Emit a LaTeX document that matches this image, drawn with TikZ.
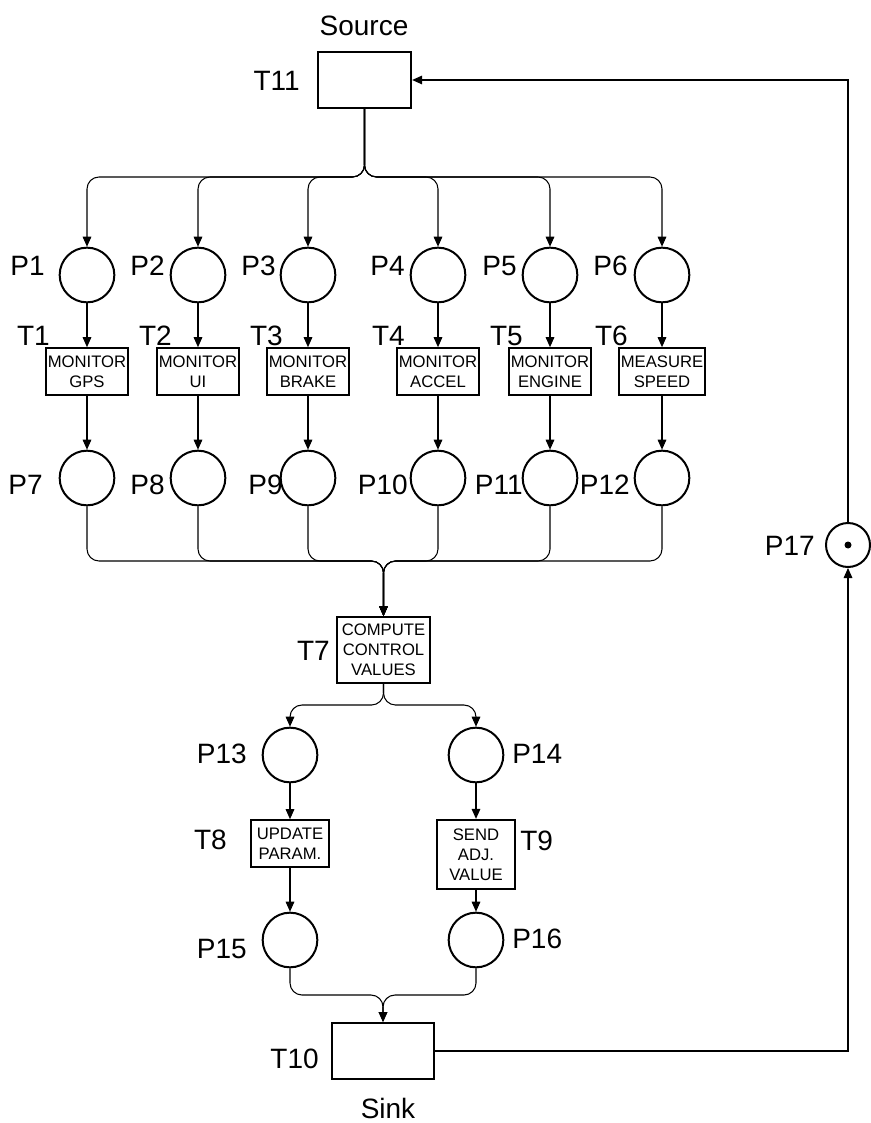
\documentclass[tikz,border=0pt]{standalone}
\usepackage{fontspec}
\setmainfont{Liberation Sans}
\usetikzlibrary{arrows.meta}

\tikzset{
  place/.style={circle,draw,line width=1.5pt,minimum size=41pt,inner sep=0pt},
  trans/.style={rectangle,draw,line width=1.5pt,align=center,inner sep=1.5pt,
    font=\fontsize{12.5}{15}\selectfont,minimum width=61pt,minimum height=35pt},
  lbl/.style={font=\fontsize{21}{24}\selectfont,inner sep=0pt,anchor=base east},
  conn/.style={line width=0.8pt,rounded corners=9pt}
}

\begin{document}
\begin{tikzpicture}[x=0.75pt,y=-0.75pt,>={Triangle[length=7.5pt,width=6.5pt]}]
  \useasboundingbox (0,0) rectangle (870,1123);

  % source and the compute step
  \node[trans,minimum width=70pt,minimum height=42pt] (t11) at (364.5,80) {};
  \node[lbl,anchor=base] (source) at (364,36) {Source};
  \node[lbl] (lt11) at (300,91) {T11};
  \node[trans,minimum width=70pt,minimum height=49.5pt] (t7) at (383.5,650)
    {COMPUTE\\CONTROL\\VALUES};
  \node[lbl] (lt7) at (330,660) {T7};
  \coordinate (split) at (t11.south |- 0,177);
  \coordinate (merge) at (t7.north |- 0,561);

  \foreach \i/\j/\x/\txt/\lp/\lt/\lq in {
    1/7/87/{MONITOR\\GPS}/45/50/43,
    2/8/198/{MONITOR\\UI}/165/172/165,
    3/9/308/{MONITOR\\BRAKE}/276/283/283,
    4/10/438/{MONITOR\\ACCEL}/405/405/408,
    5/11/550/{MONITOR\\ENGINE}/517/523/523,
    6/12/662/{MEASURE\\SPEED}/628/628/630
  } {
    \node[place] (p\i) at (\x,275) {};
    \node[trans] (t\i) at (\x,371.5) {\txt};
    \node[place] (p\j) at (\x,478) {};
    \node[lbl] (lp\i) at (\lp,275) {P\i};
    \node[lbl] (lt\i) at (\lt,345) {T\i};
    \node[lbl] (lp\j) at (\lq,494) {P\j};
    \draw[conn,->] (t11.south) -- (split) -| (p\i.north);
    \draw[conn,->] (p\i) -- (t\i);
    \draw[conn,->] (t\i) -- (p\j);
    \draw[conn,->] (p\j.south) |- (merge) -- (t7.north);
  }

  % lower half
  \node[place] (p13) at (290,755) {};
  \node[place] (p14) at (476,755) {};
  \node[trans,minimum width=58.5pt] (t8) at (290,843.5) {UPDATE\\PARAM.};
  \node[trans,minimum width=58.5pt,minimum height=52pt] (t9) at (476,854.5)
    {SEND\\ADJ.\\VALUE};
  \node[place] (p15) at (290,940) {};
  \node[place] (p16) at (476,940) {};
  \node[trans,minimum width=76.5pt,minimum height=42pt] (t10) at (383,1051) {};
  \node[place,minimum size=33pt] (p17) at (848,545) {};
  \fill (p17.center) circle[radius=3.5];
  \coordinate (split2) at (t7.south |- 0,705);
  \coordinate (merge2) at (t10.north |- 0,995);

  \node[lbl] (lp13) at (247,763) {P13};
  \node[lbl,anchor=base west] (lp14) at (512,763) {P14};
  \node[lbl] (lt8) at (227,849) {T8};
  \node[lbl,anchor=base west] (lt9) at (520,850) {T9};
  \node[lbl] (lp15) at (247,958) {P15};
  \node[lbl,anchor=base west] (lp16) at (512,948) {P16};
  \node[lbl] (lt10) at (319,1068) {T10};
  \node[lbl,anchor=base] (sink) at (388,1118) {Sink};
  \node[lbl] (lp17) at (815,555) {P17};

  \draw[conn,->] (t7.south) -- (split2) -| (p13.north);
  \draw[conn,->] (t7.south) -- (split2) -| (p14.north);
  \draw[conn,->] (p13) -- (t8);
  \draw[conn,->] (p14) -- (t9);
  \draw[conn,->] (t8) -- (p15);
  \draw[conn,->] (t9) -- (p16);
  \draw[conn,->] (p15.south) |- (merge2) -- (t10.north);
  \draw[conn,->] (p16.south) |- (merge2) -- (t10.north);
  \draw[conn,->,sharp corners] (t10.east) -| (p17.south);
  \draw[conn,->,sharp corners] (p17.north) |- (t11.east);
\end{tikzpicture}
\end{document}
